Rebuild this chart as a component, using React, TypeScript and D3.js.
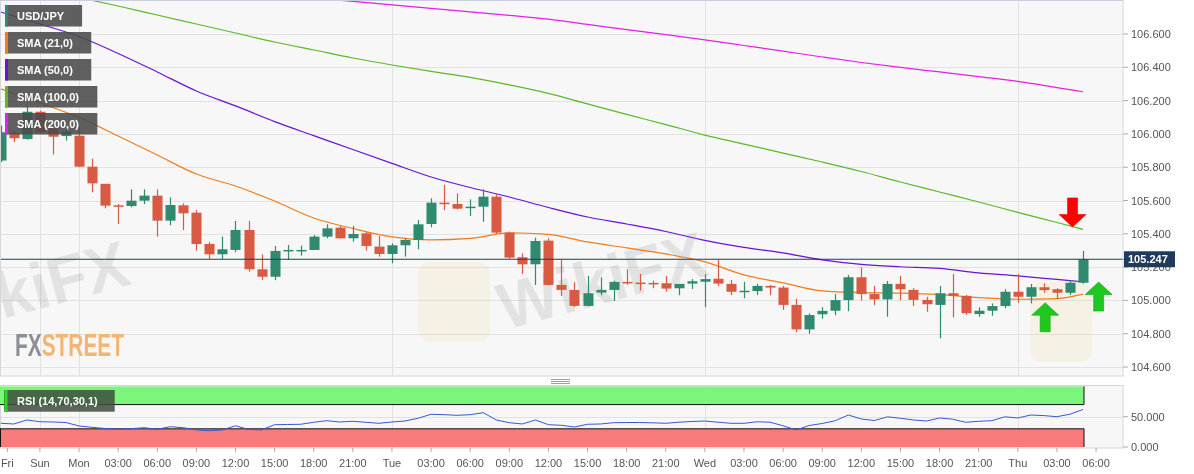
import { useMemo } from 'react'
import * as d3 from 'd3'

// hourly candles, hour 0 = Monday 00:00
const FIRST_HOUR = -6

const OPEN = [
  105.84, 106.007, 105.969, 106.133, 106.043, 105.987,
  105.989, 105.803, 105.7, 105.571, 105.567, 105.599, 105.629, 105.479, 105.571, 105.527,
  105.339, 105.277, 105.303, 105.423, 105.187, 105.142, 105.297, 105.299, 105.303, 105.383,
  105.437, 105.373, 105.403, 105.323, 105.279, 105.331, 105.363, 105.459, 105.587, 105.579,
  105.557, 105.563, 105.623, 105.407, 105.259, 105.217, 105.359, 105.093, 105.063, 104.967,
  105.047, 105.063, 105.111, 105.107, 105.105, 105.103, 105.073, 105.101, 105.112, 105.13,
  105.099, 105.052, 105.056, 105.087, 105.077, 104.973, 104.826, 104.917, 104.938, 105.002,
  105.139, 105.038, 105.006, 105.099, 105.063, 105.003, 104.973, 105.043, 105.027, 104.918,
  104.938, 104.966, 105.052, 105.022, 105.079, 105.067, 105.046, 105.106,
]
const HIGH = [
  106.05, 106.02, 106.168, 106.14, 106.05, 106.03,
  106.043, 105.851, 105.7, 105.579, 105.667, 105.667, 105.667, 105.619, 105.583, 105.543,
  105.351, 105.383, 105.477, 105.477, 105.277, 105.327, 105.333, 105.329, 105.393, 105.457,
  105.447, 105.447, 105.41, 105.387, 105.343, 105.373, 105.483, 105.613, 105.693, 105.643,
  105.607, 105.667, 105.637, 105.413, 105.283, 105.377, 105.373, 105.243, 105.109, 105.147,
  105.139, 105.118, 105.187, 105.159, 105.118, 105.147, 105.099, 105.127, 105.157, 105.247,
  105.123, 105.112, 105.099, 105.093, 105.087, 105.01, 104.922, 104.959, 105.038, 105.153,
  105.199, 105.087, 105.117, 105.147, 105.073, 105.022, 105.087, 105.159, 105.033, 104.959,
  104.982, 105.067, 105.159, 105.099, 105.103, 105.073, 105.123, 105.297,
]
const LOW = [
  105.83, 105.95, 105.966, 106.0, 105.877, 105.96,
  105.8, 105.649, 105.553, 105.459, 105.559, 105.579, 105.383, 105.451, 105.423, 105.299,
  105.249, 105.249, 105.289, 105.172, 105.122, 105.122, 105.243, 105.269, 105.303, 105.373,
  105.37, 105.353, 105.299, 105.263, 105.223, 105.263, 105.307, 105.439, 105.543, 105.547,
  105.507, 105.473, 105.399, 105.251, 105.159, 105.093, 105.09, 105.027, 104.959, 104.965,
  105.031, 104.996, 105.093, 105.059, 105.073, 105.053, 105.031, 105.069, 104.959, 105.086,
  105.032, 105.013, 105.032, 105.032, 104.943, 104.81, 104.8, 104.89, 104.911, 104.935,
  104.999, 104.971, 104.902, 105.0, 104.967, 104.932, 104.772, 104.898, 104.913, 104.902,
  104.908, 104.953, 104.986, 104.982, 105.046, 105.007, 105.032, 105.1,
]
const CLOSE = [
  106.01, 105.974, 106.133, 106.01, 105.983, 106.013,
  105.803, 105.703, 105.569, 105.565, 105.599, 105.629, 105.479, 105.573, 105.523, 105.339,
  105.277, 105.307, 105.423, 105.187, 105.142, 105.297, 105.303, 105.303, 105.383, 105.433,
  105.373, 105.399, 105.327, 105.279, 105.331, 105.363, 105.457, 105.587, 105.579, 105.551,
  105.563, 105.623, 105.407, 105.257, 105.217, 105.357, 105.093, 105.063, 104.967, 105.043,
  105.063, 105.111, 105.105, 105.101, 105.097, 105.071, 105.099, 105.115, 105.128, 105.101,
  105.052, 105.058, 105.087, 105.077, 104.973, 104.826, 104.912, 104.937, 105.002, 105.139,
  105.038, 105.006, 105.099, 105.067, 105.003, 104.977, 105.043, 105.027, 104.923, 104.938,
  104.966, 105.052, 105.022, 105.079, 105.062, 105.046, 105.106, 105.247,
]

// moving averages, read every 3 hours
const SMA_HOURS = [-6, -3, 0, 3, 6, 9, 12, 15, 18, 21, 24, 27, 30, 33, 36, 39, 42, 45, 48, 51, 54, 57, 60, 63, 66, 69, 72, 75, 77]
const SMA21 = [
  106.27, 106.186, 106.099, 105.987, 105.873, 105.759, 105.687, 105.597, 105.495, 105.432,
  105.381, 105.363, 105.372, 105.405, 105.396, 105.351, 105.315, 105.279, 105.231, 105.153,
  105.105, 105.057, 105.047, 105.044, 105.035, 105.017, 105.007, 105.011, 105.038,
]
const SMA50 = [
  106.732, 106.66, 106.585, 106.483, 106.372, 106.258, 106.168, 106.074, 105.99, 105.906,
  105.823, 105.741, 105.678, 105.621, 105.558, 105.501, 105.459, 105.414, 105.36, 105.318,
  105.285, 105.243, 105.216, 105.202, 105.192, 105.165, 105.147, 105.126, 105.112,
]
const SMA100 = [
  106.924, 106.87, 106.819, 106.768, 106.714, 106.66, 106.606, 106.552, 106.504, 106.456,
  106.414, 106.375, 106.339, 106.294, 106.243, 106.18, 106.117, 106.056, 105.993, 105.939,
  105.885, 105.831, 105.774, 105.711, 105.651, 105.591, 105.529, 105.468, 105.427,
]
const SMA200 = [
  106.984, 106.963, 106.942, 106.921, 106.9, 106.88, 106.858, 106.837, 106.816, 106.796,
  106.775, 106.754, 106.733, 106.712, 106.689, 106.658, 106.626, 106.596, 106.565, 106.531,
  106.497, 106.462, 106.429, 106.4, 106.372, 106.344, 106.315, 106.278, 106.253,
]

const RSI = [
  39.1, 38.0, 44.6, 41.7, 41.3, 40.4,
  34.7, 32.5, 30.5, 29.4, 30.2, 31.8, 29.2, 33.5, 31.8, 28.1,
  26.9, 28.1, 35.1, 28.9, 28.1, 36.8, 37.1, 37.5, 40.8, 43.4,
  41.3, 42.4, 40.8, 39.1, 41.3, 42.9, 47.4, 54.0, 53.3, 52.3,
  53.3, 56.6, 44.6, 40.1, 38.0, 44.6, 36.8, 35.8, 33.0, 37.5,
  38.0, 40.1, 40.4, 40.4, 39.9, 39.1, 40.9, 42.1, 42.9, 40.9,
  39.1, 39.1, 41.6, 40.9, 35.0, 28.1, 35.5, 38.8, 43.4, 52.8,
  46.2, 43.7, 49.8, 47.4, 44.6, 42.9, 47.9, 45.9, 40.8, 42.4,
  43.4, 49.8, 47.9, 52.8, 51.8, 50.0, 54.1, 61.9,
]
const RSI_UPPER = 70
const RSI_LOWER = 30

const LAST_PRICE = 105.247

const PRICE_TICKS = [104.6, 104.8, 105.0, 105.2, 105.4, 105.6, 105.8, 106.0, 106.2, 106.4, 106.6]
const RSI_TICKS = [0, 50]
const TIME_TICKS = [-5.5, -3, 0, 3, 6, 9, 12, 15, 18, 21, 24, 27, 30, 33, 36, 39, 42, 45, 48, 51, 54, 57, 60, 63, 66, 69, 72, 75, 78]
const TIME_LABELS = [
  'Fri', 'Sun', 'Mon', '03:00', '06:00', '09:00', '12:00', '15:00', '18:00', '21:00',
  'Tue', '03:00', '06:00', '09:00', '12:00', '15:00', '18:00', '21:00',
  'Wed', '03:00', '06:00', '09:00', '12:00', '15:00', '18:00', '21:00',
  'Thu', '03:00', '06:00',
]
const DAY_HOURS = [-3, 0, 24, 48, 72]

const LEGEND_LABELS = ['USD/JPY', 'SMA (21,0)', 'SMA (50,0)', 'SMA (100,0)', 'SMA (200,0)']
const RSI_LABEL = 'RSI (14,70,30,1)'

// arrow annotations: [hour, price at tip, direction]
const ARROW_HOURS = [76.2, 74.1, 78.2]
const ARROW_PRICES = [105.441, 104.986, 105.11]
const ARROW_DIRS = ['down', 'up', 'up']

const UP = '#2f8a70'
const DOWN = '#d85a43'
const SMA_COLORS = ['#f07d1a', '#6a12d6', '#5cb82a', '#e61ee6']
const LEGEND_COLORS = ['#2f8a70', ...SMA_COLORS]
const FONT = '"Liberation Sans", Arial, sans-serif'

const W = 1194
const H = 474
const PANEL_R = 1123
const MAIN_B = 376
const RSI_T = 385
const RSI_B = 448

function measure(s: string, font: string) {
  const ctx = document.createElement('canvas').getContext('2d')
  if (!ctx) return s.length * 6
  ctx.font = font
  return ctx.measureText(s).width
}

function arrowPath(x: number, y: number, dir: string) {
  // tip at (x, y)
  const s = dir === 'up' ? 1 : -1
  const hw = 13.5, head = 12.5, sw = 5, len = 29
  return `M${x},${y} L${x + hw},${y + s * head} L${x + sw},${y + s * head} L${x + sw},${y + s * len} L${x - sw},${y + s * len} L${x - sw},${y + s * head} L${x - hw},${y + s * head} Z`
}

export default function App() {
  const x = useMemo(() => d3.scaleLinear().domain([-6, 77]).range([0.8, 1083]), [])
  const y = useMemo(() => d3.scaleLinear().domain([104.6, 106.6]).range([367, 34]), [])
  const yr = useMemo(() => d3.scaleLinear().domain([0, 100]).range([447, 386.4]), [])

  const hours = OPEN.map((_, k) => FIRST_HOUR + k)

  const smaPaths = useMemo(() => {
    const gen = d3
      .line<number>()
      .x((_, k) => x(SMA_HOURS[k]))
      .y((v) => y(v))
      .curve(d3.curveMonotoneX)
    return [SMA21, SMA50, SMA100, SMA200].map((s) => gen(s) ?? '')
  }, [x, y])

  const rsiPath = useMemo(
    () =>
      d3
        .line<number>()
        .x((_, k) => x(FIRST_HOUR + k))
        .y((v) => yr(v))(RSI) ?? '',
    [x, yr],
  )

  const legendFont = `bold 11px ${FONT}`
  const bw = Math.max(4, x(1) - x(0) - 3)
  const bandEnd = x(hours[hours.length - 1]) + 1

  return (
    <svg
      width={W}
      height={H}
      viewBox={`0 0 ${W} ${H}`}
      style={{ position: 'fixed', left: 0, top: 0, background: '#fff', fontFamily: FONT }}
    >
      <defs>
        <clipPath id="main-clip">
          <rect x={0} y={0} width={PANEL_R} height={MAIN_B} />
        </clipPath>
        <clipPath id="rsi-clip">
          <rect x={0} y={RSI_T} width={PANEL_R} height={RSI_B - RSI_T} />
        </clipPath>
      </defs>

      {/* panels */}
      <rect x={0} y={0} width={PANEL_R} height={MAIN_B} fill="#f7f7f7" />
      <rect x={0} y={RSI_T} width={PANEL_R} height={RSI_B - RSI_T} fill="#f7f7f7" />

      {/* grid */}
      <g stroke="#e2e2e2" strokeWidth={1}>
        {PRICE_TICKS.map((t) => (
          <line key={t} x1={0} x2={PANEL_R} y1={Math.round(y(t)) + 0.5} y2={Math.round(y(t)) + 0.5} />
        ))}
        {DAY_HOURS.map((h) => (
          <g key={h}>
            <line x1={Math.round(x(h)) + 0.5} x2={Math.round(x(h)) + 0.5} y1={0} y2={MAIN_B} />
            <line x1={Math.round(x(h)) + 0.5} x2={Math.round(x(h)) + 0.5} y1={RSI_T} y2={RSI_B} />
          </g>
        ))}
        <line x1={0} x2={PANEL_R} y1={Math.round(yr(50)) + 0.5} y2={Math.round(yr(50)) + 0.5} />
      </g>

      {/* watermarks */}
      <g clipPath="url(#main-clip)" fontWeight="bold" fill="#000" opacity={0.085}>
        <text x={133} y={284} fontSize={64} textAnchor="end" transform="rotate(-15 133 284)">
          WikiFX
        </text>
        <text x={505} y={330} fontSize={64} transform="rotate(-15 505 330)">
          WikiFX
        </text>
      </g>
      <g clipPath="url(#main-clip)" fill="#f0c860" opacity={0.12}>
        <rect x={418} y={262} width={72} height={80} rx={12} />
        <rect x={1030} y={282} width={62} height={80} rx={12} />
      </g>
      <text x={15} y={356} fontSize={32} fontWeight="bold" textLength={109} lengthAdjust="spacingAndGlyphs">
        <tspan fill="#8c8f95">FX</tspan>
        <tspan fill="#f2b573">STREET</tspan>
      </text>

      {/* moving averages */}
      <g clipPath="url(#main-clip)" fill="none" strokeWidth={1.2}>
        {smaPaths.map((d, k) => (
          <path key={k} d={d} stroke={SMA_COLORS[k]} />
        ))}
      </g>

      {/* candles */}
      <g clipPath="url(#main-clip)">
        {hours.map((h, k) => {
          const o = OPEN[k], c = CLOSE[k]
          const col = c >= o ? UP : DOWN
          const cx = Math.round(x(h)) + 0.5
          const top = y(Math.max(o, c))
          const bh = Math.max(1.5, y(Math.min(o, c)) - top)
          return (
            <g key={h}>
              <line x1={cx} x2={cx} y1={y(HIGH[k])} y2={y(LOW[k])} stroke={col} strokeWidth={1.2} />
              <rect x={cx - bw / 2} y={top} width={bw} height={bh} fill={col} />
            </g>
          )
        })}
      </g>

      {/* last price line */}
      <line x1={0} x2={PANEL_R + 3} y1={y(LAST_PRICE)} y2={y(LAST_PRICE)} stroke="#1e3a5c" strokeWidth={1.2} />

      {/* arrows */}
      {ARROW_HOURS.map((h, k) => (
        <path
          key={k}
          d={arrowPath(x(h), y(ARROW_PRICES[k]), ARROW_DIRS[k])}
          fill={ARROW_DIRS[k] === 'up' ? '#1fc81f' : '#ff0000'}
          stroke={ARROW_DIRS[k] === 'up' ? '#17a017' : '#e00000'}
          strokeWidth={0.6}
        />
      ))}

      {/* legend */}
      {LEGEND_LABELS.map((label, k) => {
        const w = 30 + measure(label, legendFont)
        const top = 5 + k * 27
        return (
          <g key={label}>
            <rect x={5} y={top} width={w} height={21.5} fill="#4a4a4a" opacity={0.88} />
            <rect x={5} y={top} width={3} height={21.5} fill={LEGEND_COLORS[k]} />
            <text x={17} y={top + 15} fill="#fff" fontSize={11} fontWeight="bold">
              {label}
            </text>
          </g>
        )
      })}

      {/* panel borders */}
      <g fill="none" stroke="#d6d6d6">
        <rect x={0.5} y={0.5} width={PANEL_R - 0.5} height={MAIN_B - 0.5} />
        <rect x={0.5} y={RSI_T + 0.5} width={PANEL_R - 0.5} height={RSI_B - RSI_T - 0.5} />
      </g>
      <line x1={0} x2={PANEL_R} y1={0.5} y2={0.5} stroke="#c8cde0" />

      {/* splitter handle */}
      <g stroke="#888" strokeWidth={0.8}>
        <line x1={551} x2={570} y1={379.5} y2={379.5} />
        <line x1={551} x2={570} y1={381.5} y2={381.5} />
        <line x1={551} x2={570} y1={383.5} y2={383.5} />
      </g>

      {/* RSI panel */}
      <g clipPath="url(#rsi-clip)">
        <rect x={-2} y={yr(100)} width={bandEnd + 2} height={yr(RSI_UPPER) - yr(100)} fill="#7cf57c" />
        <rect x={-2} y={yr(RSI_LOWER)} width={bandEnd + 2} height={yr(0) - yr(RSI_LOWER)} fill="#f87a7a" />
        <g stroke="#111" strokeWidth={1}>
          <line x1={0} x2={bandEnd} y1={yr(RSI_UPPER)} y2={yr(RSI_UPPER)} />
          <line x1={0} x2={bandEnd} y1={yr(RSI_LOWER)} y2={yr(RSI_LOWER)} />
          <line x1={bandEnd} x2={bandEnd} y1={yr(100)} y2={yr(RSI_UPPER)} />
          <line x1={bandEnd} x2={bandEnd} y1={yr(RSI_LOWER)} y2={yr(0)} />
          <line x1={0.5} x2={0.5} y1={yr(RSI_LOWER)} y2={yr(0)} />
        </g>
        <path d={rsiPath} fill="none" stroke="#3a55d8" strokeWidth={1} />
      </g>
      <g>
        <rect x={4} y={390} width={30 + measure(RSI_LABEL, legendFont)} height={21.7} fill="#3d4d3d" opacity={0.85} />
        <rect x={4.5} y={390} width={3} height={21.7} fill="#22dd22" />
        <text x={17} y={405} fill="#fff" fontSize={11} fontWeight="bold">
          {RSI_LABEL}
        </text>
      </g>

      {/* right axes */}
      <g fontSize={11} fill="#555">
        {PRICE_TICKS.map((t) => (
          <g key={t}>
            <line x1={PANEL_R} x2={PANEL_R + 5} y1={y(t)} y2={y(t)} stroke="#aaa" />
            <text x={PANEL_R + 8} y={y(t) + 4}>
              {t.toFixed(3)}
            </text>
          </g>
        ))}
        {RSI_TICKS.map((t) => (
          <g key={t}>
            <line x1={PANEL_R} x2={PANEL_R + 5} y1={yr(t)} y2={yr(t)} stroke="#aaa" />
            <text x={PANEL_R + 8} y={yr(t) + 4}>
              {t.toFixed(3)}
            </text>
          </g>
        ))}
      </g>
      <rect x={PANEL_R + 1} y={y(LAST_PRICE) - 8} width={51} height={16} fill="#1e3a5c" />
      <text x={PANEL_R + 5} y={y(LAST_PRICE) + 4} fontSize={11} fontWeight="bold" fill="#fff">
        {LAST_PRICE.toFixed(3)}
      </text>

      {/* time axis */}
      <g fontSize={11} fill="#555" textAnchor="middle">
        {TIME_TICKS.map((t, k) => (
          <g key={k}>
            <line x1={x(t)} x2={x(t)} y1={RSI_B} y2={RSI_B + 4} stroke="#aaa" />
            <text x={x(t)} y={467}>
              {TIME_LABELS[k]}
            </text>
          </g>
        ))}
      </g>
    </svg>
  )
}
